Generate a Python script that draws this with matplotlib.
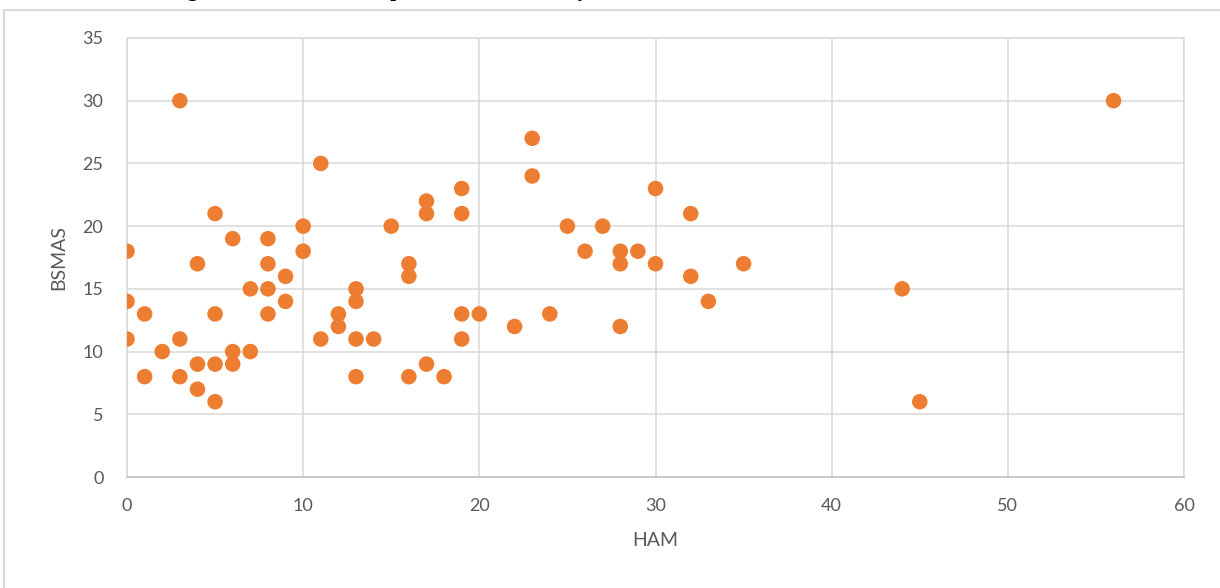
import matplotlib
matplotlib.use("Agg")
import matplotlib.pyplot as plt
from matplotlib.patches import Rectangle

# HAM vs BSMAS scores
ham = [3, 11, 19, 17, 5, 17, 19, 10, 15, 6, 8, 0, 10, 4, 8, 16, 9, 16, 7, 8,
       13, 0, 9, 13, 1, 5, 8, 12, 12, 19, 20, 0, 3, 2, 1, 3, 4, 4, 5, 5,
       6, 6, 7, 11, 13, 13, 14, 16, 17, 18, 19, 23, 23, 30, 32, 25, 27, 26, 28, 29,
       28, 30, 35, 32, 33, 22, 24, 28, 56, 44, 45]
bsmas = [30, 25, 23, 22, 21, 21, 21, 20, 20, 19, 19, 18, 18, 17, 17, 17, 16, 16, 15, 15,
         15, 14, 14, 14, 13, 13, 13, 13, 12, 13, 13, 11, 11, 10, 8, 8, 9, 7, 9, 6,
         10, 9, 10, 11, 11, 8, 11, 8, 9, 8, 11, 27, 24, 23, 21, 20, 20, 18, 18, 18,
         17, 17, 17, 16, 14, 12, 13, 12, 30, 15, 6]

x_ticks = [0, 10, 20, 30, 40, 50, 60]
y_ticks = [0, 5, 10, 15, 20, 25, 30, 35]

plt.rcParams["font.family"] = ["Lato", "DejaVu Sans"]

fig = plt.figure(figsize=(12.2, 5.88), dpi=100)
ax = fig.add_axes([127 / 1220, 1 - 477 / 588, (1184 - 127) / 1220, (477 - 38) / 588])

ax.scatter(ham, bsmas, s=125, color="#ED7D31", edgecolors="none", zorder=3)

ax.set_xlim(0, 60)
ax.set_ylim(0, 35)
ax.set_xticks(x_ticks)
ax.set_yticks(y_ticks)
ax.grid(True, color="#D9D9D9", linewidth=1.1)
ax.set_axisbelow(True)
for side in ["top", "right", "left"]:
    ax.spines[side].set_color("#D9D9D9")
    ax.spines[side].set_linewidth(1.1)
ax.spines["bottom"].set_color("#BFBFBF")
ax.spines["bottom"].set_linewidth(1.1)
ax.tick_params(length=0, labelsize=13, colors="#595959")
ax.tick_params(axis="y", pad=17)
ax.tick_params(axis="x", pad=15)

ax.set_xlabel("HAM", fontsize=14, color="#595959", labelpad=13)
ax.set_ylabel("BSMAS", fontsize=14, color="#595959", labelpad=11)

# chart frame, cut off at the right and bottom like the source
fig.patches.append(Rectangle((4 / 1220, -0.1), 1.2, 1.1 - 10 / 588,
                             transform=fig.transFigure, fill=False,
                             edgecolor="#D9D9D9", linewidth=1.5))

# document caption above the chart, only its descenders fall inside the image
fig.text(169 / 1220, 1.0 + 4 / 588, "Figure 3: The relationship between the severity of HAM and BSMAS",
         family=["Liberation Serif", "DejaVu Serif"], fontweight="bold", fontsize=15,
         va="baseline", ha="left", color="black")

fig.savefig("out.png", dpi=100)
